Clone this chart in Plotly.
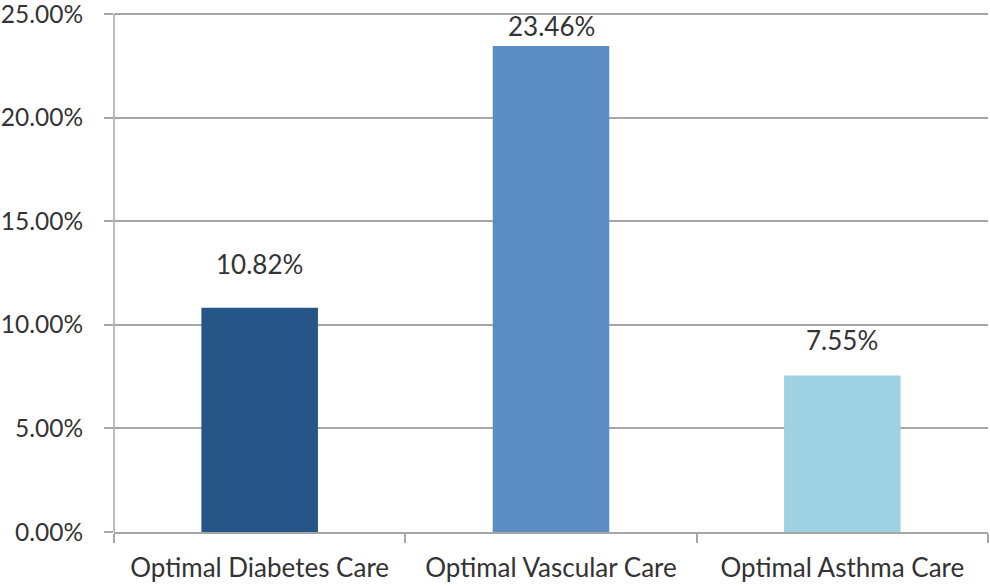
import plotly.graph_objects as go

categories = ["Optimal Diabetes Care", "Optimal Vascular Care", "Optimal Asthma Care"]
rates = [0.1082, 0.2346, 0.0755]
bar_colors = ["#265587", "#5B8CC4", "#9ED2E3"]
y_ticks = [0.0, 0.05, 0.10, 0.15, 0.20, 0.25]
label_lift = [38, 14, 30]  # vertical offset of each value label above its bar (px)

font_family = "Lato, 'Open Sans', sans-serif"
text_color = "#333333"
grid_color = "#A6A6A6"

fig = go.Figure(
    go.Bar(
        x=categories,
        y=rates,
        marker=dict(color=bar_colors, line=dict(width=0)),
        width=0.4,
        hoverinfo="skip",
    )
)

for cat, val, lift in zip(categories, rates, label_lift):
    fig.add_annotation(
        x=cat, y=val, text=f"{val * 100:.2f}%",
        showarrow=False, yanchor="bottom", yshift=lift - 12,
        font=dict(family=font_family, size=26, color=text_color),
    )

# vertical axis line, running from 0 up to the top tick only
fig.add_shape(
    type="line", xref="paper", yref="y", x0=0, x1=0, y0=0, y1=y_ticks[-1],
    line=dict(color=grid_color, width=1.5), layer="below",
)

fig.update_layout(
    width=990, height=586,
    margin=dict(l=114, r=2, t=10, b=54),
    paper_bgcolor="white", plot_bgcolor="white",
    showlegend=False,
    font=dict(family=font_family, size=26, color=text_color),
    bargap=0.6,
)
fig.update_xaxes(
    showline=True, linecolor=grid_color, linewidth=1.5,
    ticks="outside", tickson="boundaries", ticklen=9, tickcolor=grid_color, tickwidth=1.5,
    showgrid=False, ticklabelstandoff=12, automargin=False,
)
fig.update_yaxes(
    range=[0, 0.252], tickmode="array", tickvals=y_ticks,
    ticktext=[f"{v * 100:.2f}%" for v in y_ticks],
    tickfont=dict(size=24.5),
    showline=False,
    showgrid=True, gridcolor=grid_color, gridwidth=1.5,
    ticks="outside", ticklen=9, tickcolor=grid_color, tickwidth=1.5,
    ticklabelstandoff=16, ticklabeloverflow="allow",
    zeroline=False, automargin=False,
)

fig.write_html("out.html")
